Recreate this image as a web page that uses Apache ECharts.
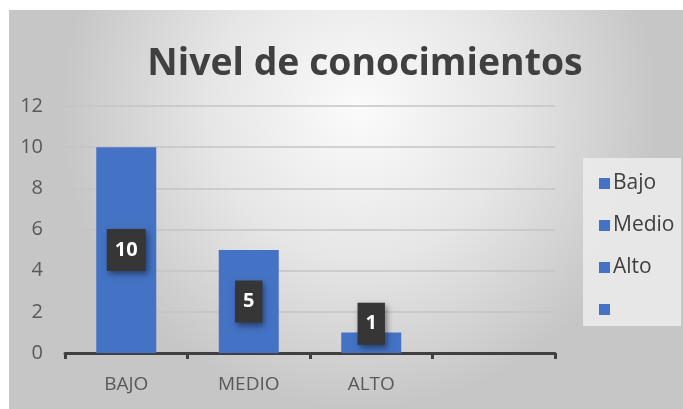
<!DOCTYPE html>
<html>
<head>
<meta charset="utf-8">
<script src="https://cdn.jsdelivr.net/npm/echarts@6/dist/echarts.min.js"></script>
<style>html,body{margin:0;padding:0;background:#fff}#c{width:683px;height:409px}</style>
</head>
<body>
<div id="c"></div>
<script>
var titleText = 'Nivel de conocimientos';
var categories = ['BAJO', 'MEDIO', 'ALTO', ''];
var values = [10, 5, 1, null];
var legendNames = ['Bajo', 'Medio', 'Alto', ' '];
var yTicks = [0, 2, 4, 6, 8, 10, 12];
var labelOffsets = [[0, 0], [0, 0], [0, -19], [0, 0]];

var barColor = '#4472c4';
var chart = echarts.init(document.getElementById('c'));

var series = legendNames.map(function (n, i) {
  return {
    name: n,
    type: 'bar',
    stack: 'all',
    barWidth: 60,
    itemStyle: { color: barColor },
    data: categories.map(function (c, j) { return j === i ? values[i] : null; }),
    label: {
      show: true,
      position: 'inside',
      offset: labelOffsets[i],
      color: '#fff',
      fontFamily: 'Open Sans',
      fontWeight: 'bold',
      fontSize: 20,
      backgroundColor: '#363636',
      padding: [11, 8, 11, 8],
      shadowBlur: 6,
      shadowColor: 'rgba(0,0,0,0.45)',
      shadowOffsetX: 2,
      shadowOffsetY: 3
    }
  };
});

chart.setOption({
  backgroundColor: '#ffffff',
  animation: false,
  graphic: [{
    type: 'rect',
    z: -10,
    silent: true,
    shape: { x: 9, y: 10, width: 674, height: 399 },
    style: {
      fill: {
        type: 'radial', x: 0.52, y: 0.25, r: 0.75,
        colorStops: [
          { offset: 0, color: '#fbfbfb' },
          { offset: 0.5, color: '#e6e6e6' },
          { offset: 1, color: '#c6c6c6' }
        ]
      }
    }
  }, {
    type: 'rect',
    z: -5,
    silent: true,
    shape: { x: 583, y: 158, width: 98, height: 168 },
    style: { fill: 'rgba(236,236,236,0.85)' }
  }],
  title: {
    text: titleText,
    left: 360,
    textAlign: 'center',
    top: 41,
    textStyle: { fontFamily: 'Open Sans', fontWeight: 'bold', fontSize: 37.4, color: '#404040' }
  },
  legend: {
    data: legendNames,
    orient: 'vertical',
    left: 594,
    top: 168,
    itemWidth: 11,
    itemHeight: 11,
    itemGap: 21,
    icon: 'rect',
    textStyle: { fontFamily: 'Open Sans', fontSize: 21, color: '#404040', padding: [0, 0, 0, -2] }
  },
  grid: { left: 65, right: 128, top: 106, bottom: 56 },
  xAxis: {
    type: 'category',
    data: categories,
    axisLine: { lineStyle: { color: '#404040', width: 3 } },
    axisTick: { show: true, length: 6, lineStyle: { color: '#404040', width: 3 } },
    axisLabel: { fontFamily: 'Open Sans', fontSize: 19, color: '#595959', margin: 22 }
  },
  yAxis: {
    type: 'value',
    min: yTicks[0],
    max: yTicks[yTicks.length - 1],
    interval: yTicks[1] - yTicks[0],
    axisLine: { show: false },
    axisTick: { show: false },
    splitLine: { lineStyle: { color: '#c4c4c4', width: 1.5 } },
    axisLabel: { fontFamily: 'Open Sans', fontSize: 20, color: '#595959', margin: 22 }
  },
  series: series
});
</script>
</body>
</html>
